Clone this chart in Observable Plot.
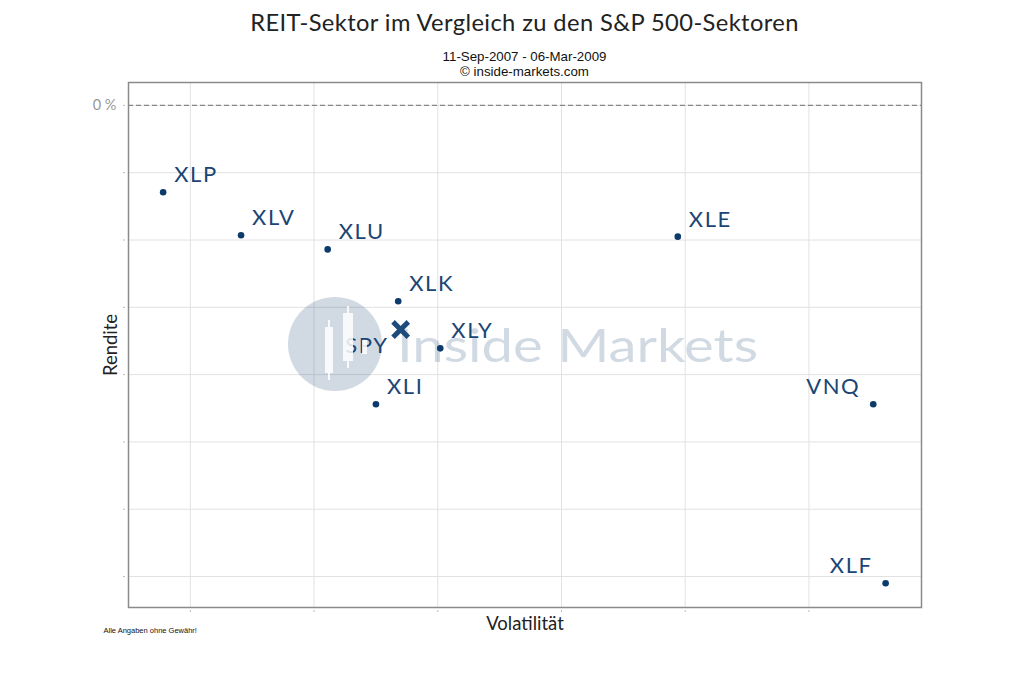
<!DOCTYPE html>
<html>
<head>
<meta charset="utf-8">
<script src="https://cdn.jsdelivr.net/npm/d3@7"></script>
<script src="https://cdn.jsdelivr.net/npm/@observablehq/plot@0.6"></script>
<style>
  html, body { margin: 0; padding: 0; background: #fff; }
  #page { position: relative; width: 1024px; height: 683px; overflow: hidden; }
  #header { position: relative; height: 78px; }
  #title { position: absolute; top: 7px; left: 128px; width: 793px; text-align: center; font: 23.7px Lato, sans-serif; letter-spacing: 0.4px; line-height: 30px; color: #222; }
  .sub { position: absolute; left: 128px; width: 793px; text-align: center; font: 13.3px "Liberation Sans", Arial, sans-serif; line-height: 15px; color: #111; }
  #wm { position: absolute; left: 0; top: 0; pointer-events: none; }
  g[font-size="22"] text { letter-spacing: 1.6px; }
</style>
</head>
<body>
<div id="page">
  <div id="header">
    <div id="title">REIT-Sektor im Vergleich zu den S&amp;P 500-Sektoren</div>
    <div class="sub" style="top:49px">11-Sep-2007 - 06-Mar-2009</div>
    <div class="sub" style="top:64px">© inside-markets.com</div>
  </div>
  <div id="chart"></div>
  <svg id="wm" width="1024" height="683" viewBox="0 0 1024 683">
    <g opacity="0.2" fill="#1f4a7a">
      <circle cx="335" cy="344" r="47"></circle>
      <text x="397" y="362" font-family="Lato, sans-serif" font-size="46" textLength="361" lengthAdjust="spacingAndGlyphs">Inside Markets</text>
    </g>
    <g fill="#fff" opacity="0.85">
      <rect x="325" y="327" width="8" height="46"></rect>
      <rect x="328" y="320" width="2" height="60"></rect>
      <rect x="343" y="313" width="10" height="48"></rect>
      <rect x="347" y="306" width="2" height="62"></rect>
      <rect x="362" y="340" width="5" height="14"></rect>
    </g>
  </svg>
</div>
<script>
const tickers    = ["XLP", "XLV", "XLU", "XLE", "XLK", "SPY", "XLY", "XLI", "VNQ", "XLF"];
const volatility = [17.8, 24.1, 31.1, 59.4, 36.8, 37.0, 40.2, 35.0, 75.2, 76.2];
const rendite    = [-12.9, -19.3, -21.4, -19.5, -29.1, -33.3, -36.1, -44.4, -44.4, -71.0];
const labelSide  = ["ur", "ur", "ur", "ur", "ur", "ll", "ur", "ur", "ul", "ul"];
const xTicks = [20, 30, 40, 50, 60, 70];
const yTicks = [0, -10, -20, -30, -40, -50, -60, -70];

const data = tickers.map((t, i) => ({t, x: volatility[i], y: rendite[i], side: labelSide[i]}));
const sectors = data.filter(d => d.t !== "SPY");
const spy = data.filter(d => d.t === "SPY");
const col = "#0c3a6b";
const labCol = "#1a4574";

const plot = Plot.plot({
  width: 1024,
  height: 569,
  marginTop: 4,
  marginLeft: 128,
  marginRight: 103,
  marginBottom: 40,
  style: {fontFamily: "Lato, sans-serif", background: "#fff"},
  x: {domain: [15, 79.1]},
  y: {domain: [-74.6, 3.4]},
  marks: [
    Plot.gridX(xTicks, {stroke: "#e2e2e2", strokeOpacity: 1}),
    Plot.gridY(yTicks, {stroke: "#e2e2e2", strokeOpacity: 1}),
    Plot.ruleY([0], {stroke: "#888", strokeDasharray: "5,3", strokeWidth: 1.2}),
    Plot.frame({stroke: "#8a8a8a", strokeWidth: 1.5}),
    Plot.axisX(xTicks, {tickSize: 2, dy: 3, stroke: "#bbb", tickFormat: () => "", label: "Volatilität", labelAnchor: "center", labelArrow: "none", labelOffset: 22, fontSize: 18, color: "#222"}),
    Plot.axisY(yTicks, {tickSize: 2, dx: -3, stroke: "#bbb", tickFormat: d => d === 0 ? "0 %" : "", label: "Rendite", labelAnchor: "center", labelArrow: "none", labelOffset: 25, fontSize: 14.5, color: "#999"}),
    Plot.dot(sectors, {x: "x", y: "y", r: 3.3, fill: col}),
    Plot.dot(spy, {x: "x", y: "y", r: 7, symbol: "times", stroke: "#1d4b7c", strokeWidth: 5}),
    Plot.text(data.filter(d => d.side === "ur"), {x: "x", y: "y", text: "t", textAnchor: "start", dx: 11, dy: -17, fontSize: 22, fill: labCol}),
    Plot.text(data.filter(d => d.side === "ul"), {x: "x", y: "y", text: "t", textAnchor: "end", dx: -13, dy: -17, fontSize: 22, fill: labCol}),
    Plot.text(data.filter(d => d.side === "ll"), {x: "x", y: "y", text: "t", textAnchor: "end", dx: -12, dy: 16, fontSize: 22, fill: labCol}),
    Plot.text(["Alle Angaben ohne Gewähr!"], {frameAnchor: "bottom-left", dx: -25, dy: 25, textAnchor: "start", fontSize: 7.5, fill: "#111", fontFamily: "Liberation Sans, Arial, sans-serif"})
  ]
});
document.getElementById("chart").appendChild(plot);
plot.querySelectorAll("[aria-label='y-axis label'] text, [aria-label='x-axis label'] text").forEach(t => { t.setAttribute("font-size", 18.5); t.setAttribute("fill", "#222"); });
</script>
</body>
</html>
